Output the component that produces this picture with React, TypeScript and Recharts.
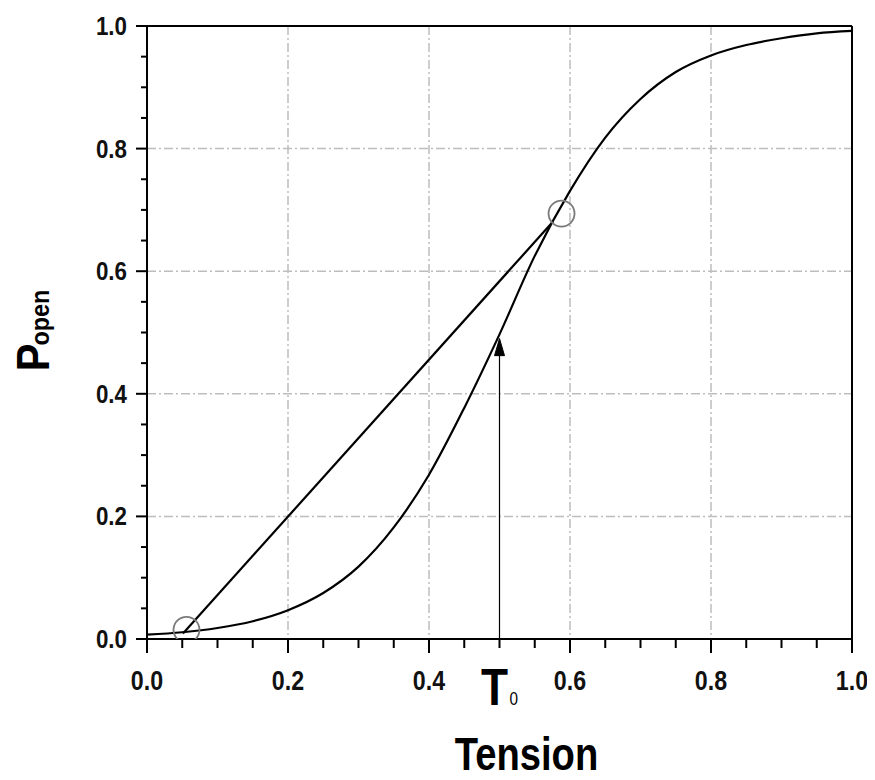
import React from "react";
import {
  LineChart,
  Line,
  Scatter,
  XAxis,
  YAxis,
  CartesianGrid,
} from "recharts";

// open probability vs. membrane tension
const tension = [
  0, 0.05, 0.1, 0.15, 0.2, 0.25, 0.3, 0.35, 0.4, 0.45, 0.5, 0.55, 0.6, 0.65,
  0.7, 0.75, 0.8, 0.85, 0.9, 0.95, 1.0,
];
const pOpen = [
  0.007, 0.011, 0.018, 0.029, 0.047, 0.075, 0.118, 0.182, 0.268, 0.377, 0.497,
  0.625, 0.731, 0.818, 0.881, 0.925, 0.952, 0.969, 0.98, 0.988, 0.992,
];

// straight chord between the two marked points
const chordX = [0.051, 0.576];
const chordY = [0.009, 0.681];

// open circle markers
const markerX = [0.056, 0.588];
const markerY = [0.015, 0.694];

// arrow pointing at T0
const T0 = 0.5;
const arrowX = [T0, T0];
const arrowY = [0, 0.49];

const axisTicks = [
  0, 0.05, 0.1, 0.15, 0.2, 0.25, 0.3, 0.35, 0.4, 0.45, 0.5, 0.55, 0.6, 0.65,
  0.7, 0.75, 0.8, 0.85, 0.9, 0.95, 1.0,
];
const gridValues = [0.2, 0.4, 0.6, 0.8];

const curveData = tension.map((x, i) => ({ x, y: pOpen[i] }));
const chordData = chordX.map((x, i) => ({ x, y: chordY[i] }));
const markerData = markerX.map((x, i) => ({ x, y: markerY[i] }));
const arrowData = arrowX.map((x, i) => ({ x, y: arrowY[i] }));

const FONT = "'Liberation Sans', Arial, sans-serif";
const isMajor = (v: number) => Math.round(v * 100) % 20 === 0;

function BottomTick(props: any) {
  const { x, y, payload } = props;
  const v = payload.value as number;
  const major = isMajor(v);
  return (
    <g>
      <line x1={x} x2={x} y1={y} y2={y + (major ? 14 : 9)} stroke="#000" strokeWidth={2} />
      {major && (
        <text
          transform={`translate(${x},${y + 51}) scale(0.86,1)`}
          textAnchor="middle"
          fontFamily={FONT}
          fontWeight="bold"
          fontSize={27}
          fill="#111"
        >
          {v.toFixed(1)}
        </text>
      )}
      {Math.abs(v - T0) < 1e-9 && (
        <text
          transform={`translate(${x},${y + 66}) scale(0.85,1)`}
          textAnchor="middle"
          fontFamily={FONT}
          fill="#000"
        >
          <tspan fontWeight="bold" fontSize={52}>T</tspan>
          <tspan fontSize={18} dx={2}>0</tspan>
        </text>
      )}
    </g>
  );
}

function TopTick(props: any) {
  const { x, y, payload } = props;
  const major = isMajor(payload.value);
  return <line x1={x} x2={x} y1={y} y2={y + (major ? 14 : 9)} stroke="#000" strokeWidth={2} />;
}

function LeftTick(props: any) {
  const { x, y, payload } = props;
  const v = payload.value as number;
  const major = isMajor(v);
  return (
    <g>
      <line x1={x} x2={x - (major ? 11 : 6)} y1={y} y2={y} stroke="#000" strokeWidth={2} />
      {major && (
        <text
          transform={`translate(${x - 20},${y + 9}) scale(0.86,1)`}
          textAnchor="end"
          fontFamily={FONT}
          fontWeight="bold"
          fontSize={26}
          fill="#111"
        >
          {v.toFixed(1)}
        </text>
      )}
    </g>
  );
}

function RightTick(props: any) {
  const { x, y, payload } = props;
  const major = isMajor(payload.value);
  return <line x1={x} x2={x - (major ? 12 : 7)} y1={y} y2={y} stroke="#000" strokeWidth={2} />;
}

function TensionLabel(props: any) {
  const vb = props.viewBox || { x: 139, y: 631, width: 705, height: 40 };
  const cx = vb.x + vb.width / 2 + 27;
  return (
    <text
      transform={`translate(${cx},${vb.y + 131}) scale(0.83,1)`}
      textAnchor="middle"
      fontFamily={FONT}
      fontWeight="bold"
      fontSize={46}
      fill="#000"
    >
      Tension
    </text>
  );
}

function POpenLabel(props: any) {
  const vb = props.viewBox || { x: 99, y: 18, width: 40, height: 613 };
  const midY = vb.y + vb.height / 2 - 2;
  return (
    <text
      transform={`translate(${vb.x - 58},${midY}) rotate(-90) scale(0.9,1)`}
      textAnchor="middle"
      fontFamily={FONT}
      fontWeight="bold"
      fill="#000"
    >
      <tspan fontSize={46}>P</tspan>
      <tspan fontSize={26} dx={-2}>open</tspan>
    </text>
  );
}

function ArrowHead(props: any) {
  const { cx, cy, index } = props;
  if (index !== arrowData.length - 1) return <g key={`a${index}`} />;
  return (
    <path
      key={`a${index}`}
      d={`M${cx},${cy} L${cx - 5},${cy + 17} L${cx + 5},${cy + 17} Z`}
      fill="#000"
      stroke="#000"
    />
  );
}

function RingMarker(props: any) {
  const { cx, cy } = props;
  return <circle cx={cx} cy={cy} r={13} fill="none" stroke="#7a7a7a" strokeWidth={1.8} />;
}

export default function App() {
  return (
    <div style={{ width: 867, height: 772, background: "#fff" }}>
      <LineChart
        width={867}
        height={772}
        margin={{ top: 8, right: 13, bottom: 101, left: 99 }}
      >
        <CartesianGrid
          xAxisId="b"
          yAxisId="l"
          verticalValues={gridValues}
          horizontalValues={gridValues}
          stroke="#bdbdbd"
          strokeWidth={1.5}
          strokeDasharray="9 3 2 3"
        />
        <XAxis
          xAxisId="b"
          dataKey="x"
          type="number"
          orientation="bottom"
          domain={[0, 1]}
          ticks={axisTicks}
          interval={0}
          height={40}
          tickSize={0}
          tickMargin={0}
          tickLine={false}
          tick={(p: any) => <BottomTick {...p} />}
          axisLine={{ stroke: "#000", strokeWidth: 2 }}
          allowDataOverflow
          label={<TensionLabel />}
        />
        <XAxis
          xAxisId="t"
          type="number"
          orientation="top"
          domain={[0, 1]}
          ticks={axisTicks}
          interval={0}
          height={10}
          tickSize={0}
          tickMargin={0}
          tickLine={false}
          tick={(p: any) => <TopTick {...p} />}
          axisLine={{ stroke: "#000", strokeWidth: 2 }}
        />
        <YAxis
          yAxisId="l"
          dataKey="y"
          type="number"
          orientation="left"
          domain={[0, 1]}
          ticks={axisTicks}
          interval={0}
          width={40}
          tickSize={0}
          tickMargin={0}
          tickLine={false}
          tick={(p: any) => <LeftTick {...p} />}
          axisLine={{ stroke: "#000", strokeWidth: 2 }}
          allowDataOverflow
          label={<POpenLabel />}
        />
        <YAxis
          yAxisId="r"
          type="number"
          orientation="right"
          domain={[0, 1]}
          ticks={axisTicks}
          interval={0}
          width={10}
          tickSize={0}
          tickMargin={0}
          tickLine={false}
          tick={(p: any) => <RightTick {...p} />}
          axisLine={{ stroke: "#000", strokeWidth: 2 }}
        />
        <Line
          xAxisId="b"
          yAxisId="l"
          data={arrowData}
          dataKey="y"
          type="linear"
          stroke="#000"
          strokeWidth={1.2}
          dot={(p: any) => <ArrowHead {...p} />}
          activeDot={false}
          isAnimationActive={false}
        />
        <Line
          xAxisId="b"
          yAxisId="l"
          data={curveData}
          dataKey="y"
          type="monotone"
          stroke="#000"
          strokeWidth={2.2}
          dot={false}
          activeDot={false}
          isAnimationActive={false}
        />
        <Line
          xAxisId="b"
          yAxisId="l"
          data={chordData}
          dataKey="y"
          type="linear"
          stroke="#000"
          strokeWidth={2.2}
          dot={false}
          activeDot={false}
          isAnimationActive={false}
        />
        <Scatter
          xAxisId="b"
          yAxisId="l"
          data={markerData}
          dataKey="y"
          shape={(p: any) => <RingMarker {...p} />}
          isAnimationActive={false}
        />
      </LineChart>
    </div>
  );
}
